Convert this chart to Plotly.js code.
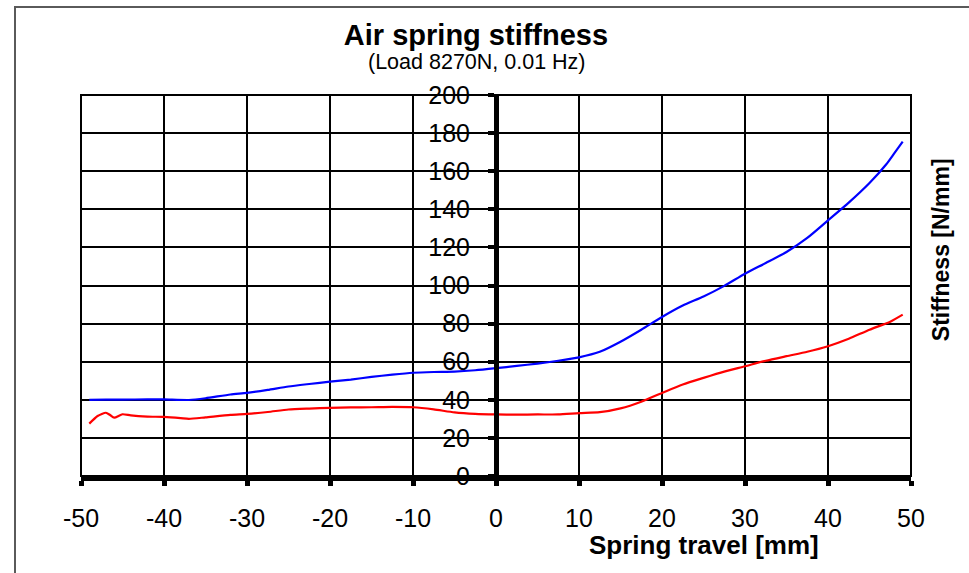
<!DOCTYPE html>
<html>
<head>
<meta charset="utf-8">
<script src="https://cdn.plot.ly/plotly-3.0.1.min.js"></script>
<style>
  html, body { margin: 0; padding: 0; background: #fff; }
  #wrap { position: relative; width: 969px; height: 573px; overflow: hidden; }
  #chart { position: absolute; left: 0; top: 0; width: 969px; height: 573px; }
  #frame { position: absolute; left: 14px; top: 6px; width: 990px; height: 600px;
           border-left: 2px solid #5a5a5a; border-top: 2px solid #5a5a5a; pointer-events: none; }
</style>
</head>
<body>
<div id="wrap"><div id="chart"></div><div id="frame"></div></div>
<script>
// Spring travel [mm] and stiffness [N/mm]
const travelBlue = [-49,-47,-45,-42,-40,-37,-35,-32,-30,-27.5,-25,-22.5,-20,-17.5,-15,-12.5,-10,-7.5,-5,-2.5,0,2.5,5,7.5,10,12.5,15,17.5,20,22.5,25,27.5,30,32.5,35,37.5,40,42.5,45,47,48,49];
const stiffBlue  = [40.0,40.1,40.1,40.2,40.2,39.9,40.8,42.8,43.6,45.2,47.0,48.3,49.5,50.6,52.0,53.2,54.2,54.6,54.8,55.5,56.6,57.8,59.0,60.5,62.3,65.2,70.5,76.8,83.5,89.5,94.2,99.8,106.2,111.8,117.6,125.0,134.2,143.5,153.8,163.5,169.5,175.5];

const travelRed = [-49,-48,-47,-46.5,-46,-45,-44,-42,-40,-38,-37,-35,-32,-30,-27.5,-25,-22.5,-20,-17.5,-15,-12.5,-10,-7.5,-5,-2.5,0,2.5,5,7.5,10,12.5,15,17.5,20,22.5,25,27.5,30,32.5,35,37.5,40,42.5,45,47.5,49];
const stiffRed  = [27.5,31.5,33.2,32.0,30.6,32.4,31.8,31.2,31.0,30.4,30.0,30.8,32.1,32.6,33.6,34.9,35.4,35.8,36.0,36.1,36.3,36.1,35.0,33.4,32.6,32.3,32.2,32.3,32.3,33.0,33.5,35.5,39.0,43.6,48.0,51.5,54.8,57.6,60.5,62.9,65.2,68.1,72.0,76.8,81.0,84.7];

const xTicks = [-50,-40,-30,-20,-10,0,10,20,30,40,50];
const yTicks = [0,20,40,60,80,100,120,140,160,180,200];

const FONT = 'Arial, "Liberation Sans", sans-serif';

const traces = [
  { x: travelBlue, y: stiffBlue, type: 'scatter', mode: 'lines',
    line: { color: '#0000ff', width: 2.2, shape: 'spline', smoothing: 0.6 }, hoverinfo: 'skip' },
  { x: travelRed, y: stiffRed, type: 'scatter', mode: 'lines',
    line: { color: '#ff0000', width: 2.2, shape: 'spline', smoothing: 0.6 }, hoverinfo: 'skip' }
];

const layout = {
  width: 969, height: 573,
  margin: { l: 81, r: 58, t: 95, b: 97, pad: 0 },
  paper_bgcolor: 'rgba(0,0,0,0)', plot_bgcolor: '#ffffff',
  showlegend: false,
  font: { family: FONT, color: '#000' },
  title: {
    text: '<b>Air spring stiffness</b>',
    font: { family: FONT, size: 29, color: '#000' },
    x: 476 / 969, xref: 'container', xanchor: 'center',
    y: 1 - 35 / 573, yref: 'container', yanchor: 'middle'
  },
  xaxis: {
    range: [-50, 50], tickvals: xTicks, ticktext: xTicks.map(String),
    showgrid: true, gridcolor: '#000', gridwidth: 2,
    zeroline: false,
    showline: true, linecolor: '#000', linewidth: 5,
    ticks: 'outside', ticklen: 5, tickwidth: 5, tickcolor: '#000',
    tickfont: { family: FONT, size: 25, color: '#000' },
    ticklabelstandoff: 11,
    fixedrange: true
  },
  yaxis: {
    range: [0, 200], tickvals: yTicks, ticktext: yTicks.map(String),
    anchor: 'free', position: 0.5,
    showgrid: true, gridcolor: '#000', gridwidth: 2,
    zeroline: false,
    showline: true, linecolor: '#000', linewidth: 5,
    ticks: 'outside', ticklen: 6, tickwidth: 4, tickcolor: '#000',
    tickfont: { family: FONT, size: 25, color: '#000' },
    ticklabelstandoff: 13,
    fixedrange: true
  },
  shapes: [
    { type: 'rect', xref: 'paper', yref: 'paper', x0: 0, x1: 1, y0: 0, y1: 1,
      line: { color: '#000', width: 2 }, layer: 'below' }
  ],
  annotations: [
    { text: '(Load 8270N, 0.01 Hz)', xref: 'paper', yref: 'paper',
      x: 0.4776, y: (476.5 - 62) / 381.3, xanchor: 'center', yanchor: 'middle',
      showarrow: false, font: { family: FONT, size: 21.5, color: '#000' } },
    { text: '<b>Spring travel [mm]</b>', xref: 'paper', yref: 'paper',
      x: (704 - 80.7) / 829.8, y: (476.5 - 546) / 381.3, xanchor: 'center', yanchor: 'middle',
      showarrow: false, font: { family: FONT, size: 26, color: '#000' } },
    { text: '<b>Stiffness [N/mm]</b>', xref: 'paper', yref: 'paper', textangle: -90,
      x: (940 - 80.7) / 829.8, y: (476.5 - 250) / 381.3, xanchor: 'center', yanchor: 'middle',
      showarrow: false, font: { family: FONT, size: 23, color: '#000' } }
  ]
};

Plotly.newPlot('chart', traces, layout, { displayModeBar: false, staticPlot: true });
</script>
</body>
</html>
